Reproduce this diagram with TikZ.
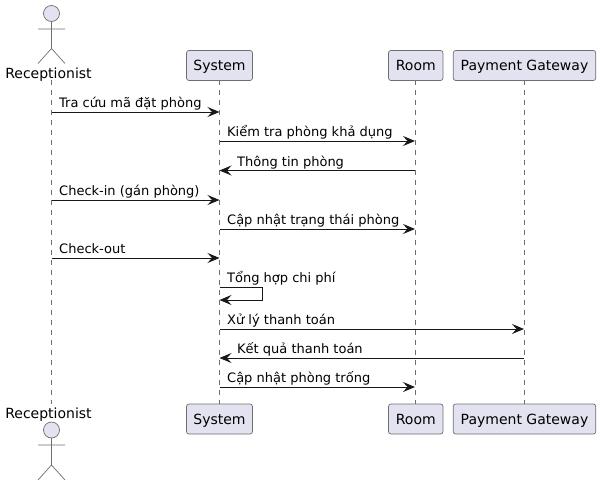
\documentclass[tikz,border=0pt]{standalone}
\usepackage{fontspec}
\setmainfont{DejaVu Sans}
\usetikzlibrary{arrows.meta}
\definecolor{partfill}{HTML}{E2E2F0}
\definecolor{partline}{HTML}{6E6E6E}
\definecolor{msgline}{HTML}{181818}
\tikzset{
  x=1pt,y=-1pt,
  partbox/.style={draw=partline,line width=0.7pt,fill=partfill,rounded corners=2.5pt,minimum height=30pt,inner sep=0pt,font=\fontsize{14}{16}\selectfont,text depth=0pt,anchor=center},
  actorname/.style={anchor=base,inner sep=0pt,font=\fontsize{14}{16}\selectfont},
  lifeline/.style={draw=partline,line width=0.7pt,dash pattern=on 5pt off 5pt},
  actorline/.style={draw=partline,line width=0.7pt},
  actorhead/.style={actorline,fill=partfill},
  msg/.style={draw=msgline,line width=1pt,-{Stealth[length=12pt,width=10pt,inset=4.5pt]}},
  msgtext/.style={anchor=base west,inner sep=0pt,font=\fontsize{13}{15}\selectfont},
}
\newcommand{\actorfig}[3]{% x, head y, arm y
  \draw[actorhead] (#1,#2) circle (8);
  \draw[actorline] (#1,#2+8) -- (#1,#2+35) (#1-13.5,#3) -- (#1+13.5,#3)
    (#1-13.5,#2+50) -- (#1,#2+35) -- (#1+13.5,#2+50);
}
\begin{document}
\begin{tikzpicture}
\useasboundingbox (0,0) rectangle (600,485);
\coordinate (rt) at (51.5,80); \coordinate (rb) at (51.5,404);
\coordinate (stl) at (219.5,80); \coordinate (sbl) at (219.5,404);
\coordinate (otl) at (415,80); \coordinate (obl) at (415,404);
\coordinate (ptl) at (524,80); \coordinate (pbl) at (524,404);
\draw[lifeline] (rt) -- (rb);
\draw[lifeline] (stl) -- (sbl);
\draw[lifeline] (otl) -- (obl);
\draw[lifeline] (ptl) -- (pbl);
\node[partbox,minimum width=66pt] (st) at (219.5,65.5) {System};
\node[partbox,minimum width=66pt] (sb) at (219.5,419) {System};
\node[partbox,minimum width=54.5pt] (ot) at (415.75,65.5) {Room};
\node[partbox,minimum width=54.5pt] (ob) at (415.75,419) {Room};
\node[partbox,minimum width=142.5pt] (pt) at (524.5,65.5) {Payment Gateway};
\node[partbox,minimum width=142.5pt] (pb) at (524.5,419) {Payment Gateway};
\actorfig{51.5}{13.5}{29}
\actorfig{51.5}{430}{445}
\node[actorname] (rlt) at (48.5,78) {Receptionist};
\node[actorname] (rlb) at (48.5,418) {Receptionist};
\foreach \n/\y/\fx/\tx in {a/112/r/s,b/141/s/o,c/170.5/o/s,d/200/r/s,e/229/s/o,f/258/r/s,g/329/s/p,h/358/p/s,i/387/s/o}{
  \coordinate (r\n) at (51.5,\y);
  \coordinate (s\n) at (219.5,\y);
  \coordinate (o\n) at (415,\y);
  \coordinate (p\n) at (524,\y);
  \draw[msg] (\fx\n) -- (\tx\n);
}
\coordinate (sl1) at (219.5,287.5); \coordinate (sl2) at (262,287.5);
\coordinate (sl3) at (262,300); \coordinate (sl4) at (219.5,300);
\draw[msg] (sl1) -- (sl2) -- (sl3) -- (sl4);
\node[msgtext] (ta) at (59,107) {Tra cứu mã đặt phòng};
\node[msgtext] (tb) at (227,136) {Kiểm tra phòng khả dụng};
\node[msgtext] (tc) at (237,166) {Thông tin phòng};
\node[msgtext] (td) at (59,195) {Check-in (gán phòng)};
\node[msgtext] (te) at (227,224) {Cập nhật trạng thái phòng};
\node[msgtext] (tf) at (59,253) {Check-out};
\node[msgtext] (tg) at (227,282) {Tổng hợp chi phí};
\node[msgtext] (th) at (227,324) {Xử lý thanh toán};
\node[msgtext] (ti) at (237,353) {Kết quả thanh toán};
\node[msgtext] (tj) at (227,382.5) {Cập nhật phòng trống};
\end{tikzpicture}
\end{document}
